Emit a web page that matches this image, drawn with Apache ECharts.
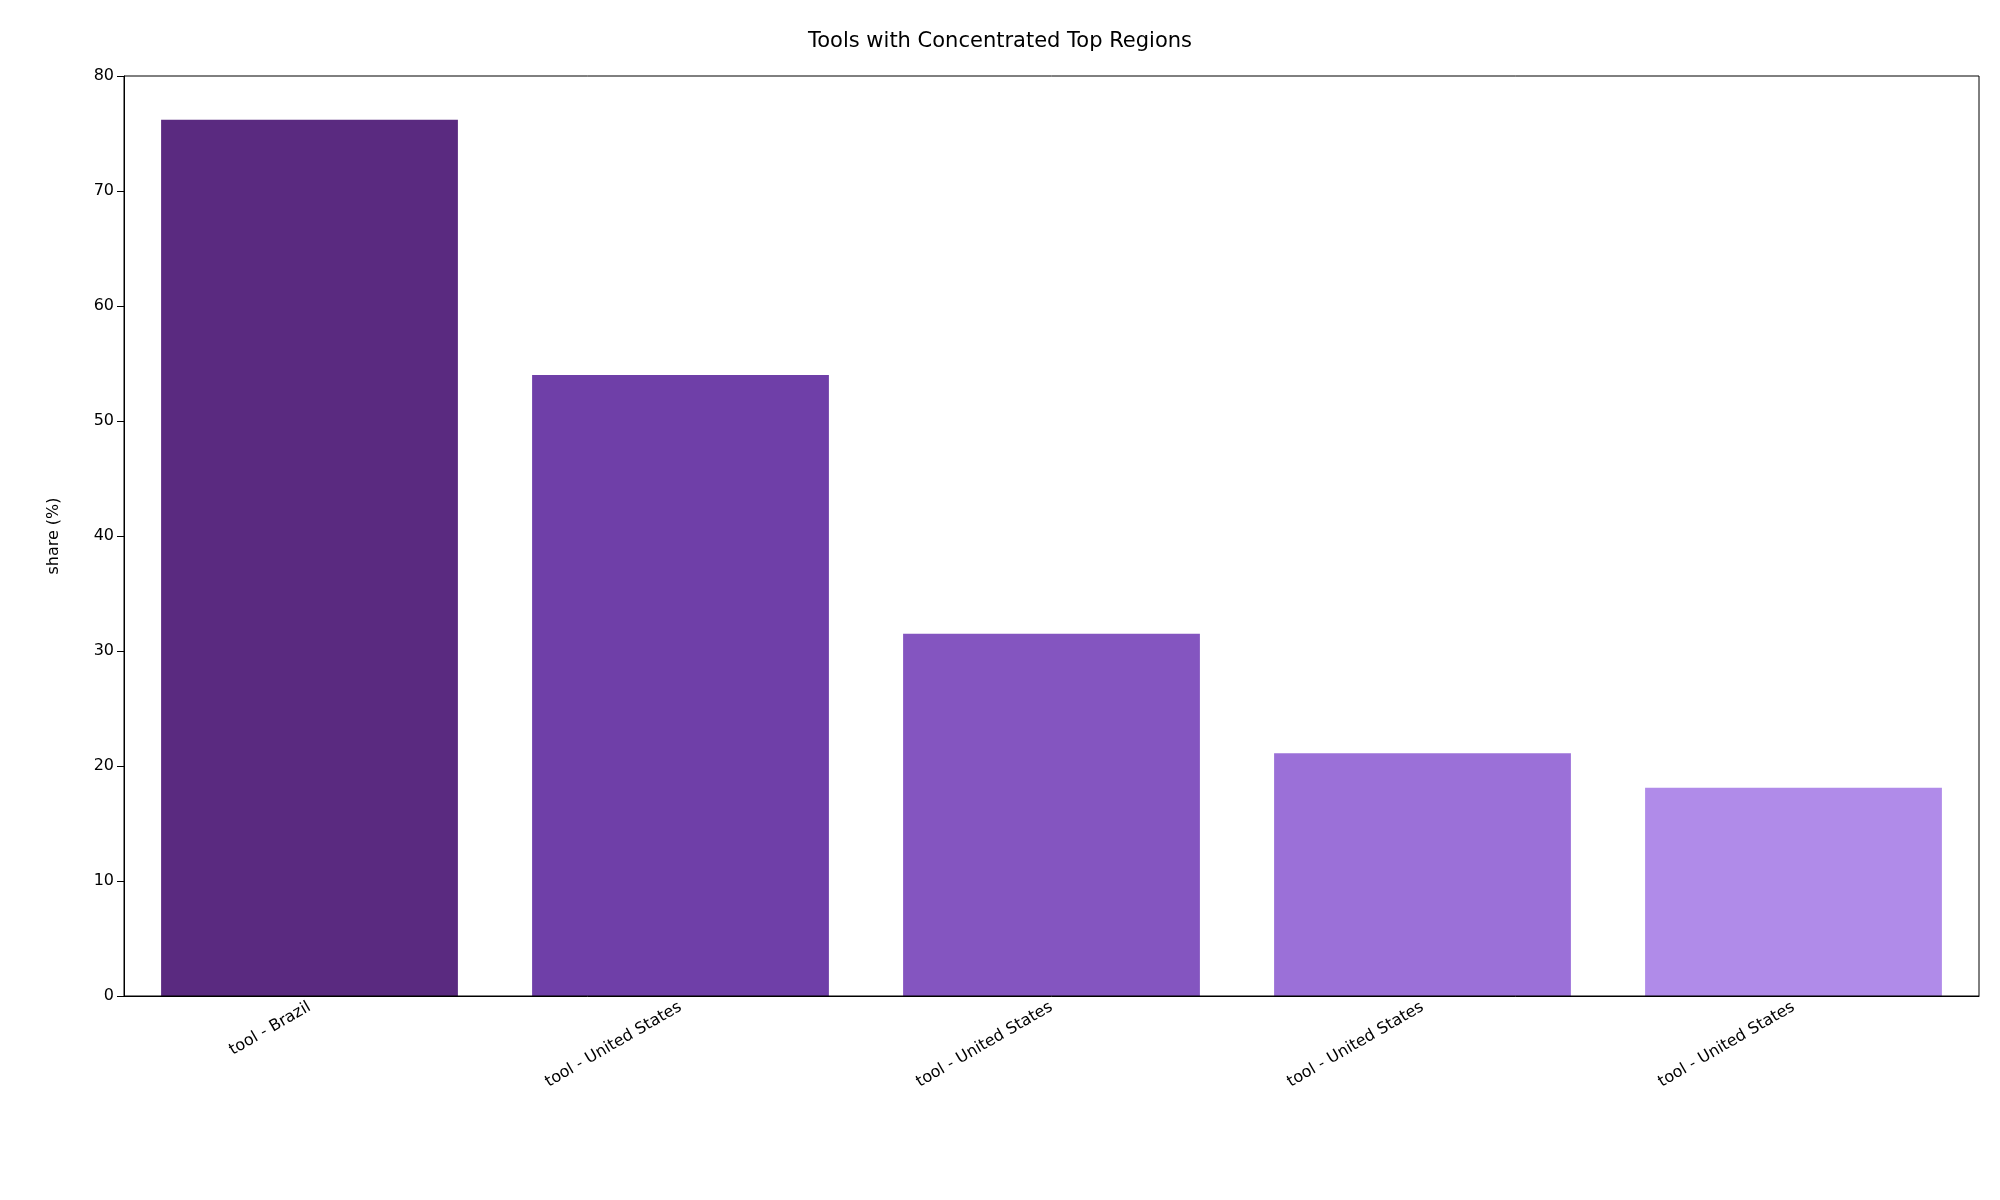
<!DOCTYPE html>
<html><head><meta charset="utf-8">
<script src="https://cdn.jsdelivr.net/npm/echarts@6/dist/echarts.min.js"></script>
<style>html,body{margin:0;padding:0;background:#fff}#c{width:2000px;height:1200px}</style>
</head><body><div id="c"></div>
<script>
const categories = ["tool - Brazil","tool - United States","tool - United States","tool - United States","tool - United States"];
const values = [76.2, 54.0, 31.5, 21.1, 18.1];
const colors = ["#5a2a80","#6f3fa8","#8455c0","#9b70d8","#b08be9"];
const yTicks = {min:0, max:80, interval:10};
const chart = echarts.init(document.getElementById('c'));
chart.setOption({
  animation:false,
  title:{text:"Tools with Concentrated Top Regions",left:'center',top:26,textStyle:{fontFamily:'DejaVu Sans',fontSize:21,fontWeight:'normal',color:'#000'}},
  grid:{left:124,right:21,top:76,bottom:204},
  xAxis:{type:'category',data:categories,
    axisLine:{lineStyle:{color:'#000'}},axisTick:{alignWithLabel:true,length:7,lineStyle:{color:'#000'}},
    axisLabel:{rotate:30,fontFamily:'DejaVu Sans',fontSize:16,color:'#000',margin:10,interval:0}},
  yAxis:{type:'value',min:yTicks.min,max:yTicks.max,interval:yTicks.interval,name:'share (%)',nameLocation:'middle',nameGap:62,
    nameTextStyle:{fontFamily:'DejaVu Sans',fontSize:16,color:'#000'},
    axisLine:{show:true,lineStyle:{color:'#000'}},axisTick:{show:true,length:7,lineStyle:{color:'#000'}},
    splitLine:{show:false},axisLabel:{fontFamily:'DejaVu Sans',fontSize:16,color:'#000',margin:10}},
  series:[{type:'bar',barCategoryGap:'20%',
    data:values.map((v,i)=>({value:v,itemStyle:{color:colors[i]}}))}],
  graphic:[{type:'rect',shape:{x:124,y:76,width:1855,height:920},style:{fill:'none',stroke:'#000',lineWidth:1},z:100}]
});
</script></body></html>
